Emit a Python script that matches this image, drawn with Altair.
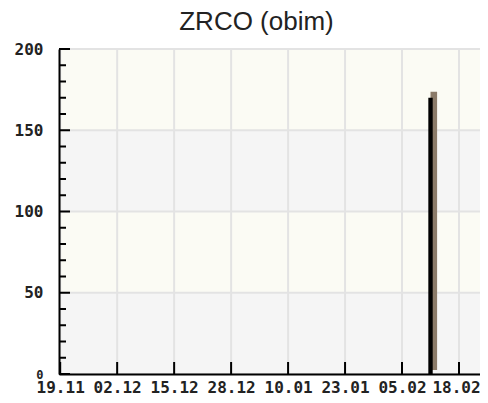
import altair as alt
import pandas as pd

# ---- data ----
tick_dates = ["2019-11-19", "2019-12-02", "2019-12-15", "2019-12-28",
              "2020-01-10", "2020-01-23", "2020-02-05", "2020-02-18"]
bar_start = ["2020-02-11"]
bar_end = ["2020-02-12"]
bar_values = [170]
y_major = [0, 50, 100, 150, 200]
y_minor = [10, 20, 30, 40, 60, 70, 80, 90, 110, 120, 130, 140, 160, 170, 180, 190]
band_lo = [0, 50, 100, 150]
band_hi = [50, 100, 150, 200]
band_kind = ["gray", "cream", "gray", "cream"]

W, H = 421, 325
LABEL_FONT = "DejaVu Sans Mono"


def dt(s):
    t = pd.Timestamp(s)
    return alt.DateTime(year=t.year, month=t.month, date=t.day,
                        hours=t.hour, minutes=t.minute, utc=True)


last_tick_ms = int(pd.Timestamp(tick_dates[-1], tz="UTC").timestamp() * 1000)

# about 4.394 px per day, starting just before 19.11
xscale = alt.Scale(type="utc", domain=[dt("2019-11-18 17:30"), dt("2020-02-22 19:00")])
yscale = alt.Scale(domain=[0, 200], nice=False, zero=False)

xaxis = alt.Axis(values=[dt(d) for d in tick_dates], format="%d.%m", grid=False,
                 ticks=False, domainColor="#000", domainWidth=2,
                 labelFont=LABEL_FONT, labelFontSize=16, labelFontWeight="bold",
                 labelColor="#222", labelPadding=5, labelFlush=False,
                 labelOffset={"condition": {"test": f"+datum.value >= {last_tick_ms}",
                                            "value": -3}, "value": 0},
                 labelOverlap=False, title=None, zindex=1)
yaxis = alt.Axis(values=y_major, grid=False, ticks=False, domainColor="#000",
                 domainWidth=2, labelFont=LABEL_FONT,
                 labelFontSize={"condition": {"test": "datum.value === 0", "value": 12},
                                "value": 16},
                 labelFontWeight="bold", labelColor="#222", labelPadding=16,
                 labelBaseline="middle", title=None, zindex=1)


def X(f):
    return alt.X(f, scale=xscale, axis=xaxis)


def Y(f):
    return alt.Y(f, scale=yscale, axis=yaxis)


bands_df = pd.DataFrame({"lo": band_lo, "hi": band_hi, "kind": band_kind})
ticks_df = pd.DataFrame({"d": tick_dates})
ymaj_df = pd.DataFrame({"v": y_major})
ymin_df = pd.DataFrame({"v": y_minor})
bar_df = pd.DataFrame({"s": bar_start, "e": bar_end, "v": bar_values})

bands = alt.Chart(bands_df).mark_rect().encode(
    x=alt.value(0), x2=alt.value("width"),
    y=Y("lo:Q"), y2="hi:Q",
    color=alt.Color("kind:N", scale=alt.Scale(domain=["gray", "cream"],
                                              range=["#f5f5f5", "#fbfbf4"]),
                    legend=None),
)

vgrid = alt.Chart(ticks_df).mark_rule(color="#e3e3e3", strokeWidth=2).encode(
    x=X("d:T"), y=alt.value(0), y2=alt.value("height"))

hgrid = alt.Chart(ymaj_df).mark_rule(color="#e3e3e3", strokeWidth=2).encode(
    y=Y("v:Q"), x=alt.value(0), x2=alt.value("width"))

# 3-D side face of the bar: same bar, shifted right and up
side = alt.Chart(bar_df).mark_bar(color="#8b7b69", xOffset=2.2, x2Offset=4.4,
                                  yOffset=-6, y2Offset=-4).encode(
    x=X("s:T"), x2="e:T", y=Y("v:Q"), y2=alt.datum(0))

front = alt.Chart(bar_df).mark_bar(color="#000000").encode(
    x=X("s:T"), x2="e:T", y=Y("v:Q"), y2=alt.datum(0))

xticks = alt.Chart(ticks_df).mark_rule(color="#000", strokeWidth=2).encode(
    x=X("d:T"), y=alt.value(H - 12), y2=alt.value(H))

ymaj_ticks = alt.Chart(ymaj_df).mark_rule(color="#000", strokeWidth=2).encode(
    y=Y("v:Q"), x=alt.value(0), x2=alt.value(11))

ymin_ticks = alt.Chart(ymin_df).mark_rule(color="#000", strokeWidth=2).encode(
    y=Y("v:Q"), x=alt.value(0), x2=alt.value(7))

chart = alt.layer(bands, vgrid, hgrid, side, front, xticks, ymaj_ticks, ymin_ticks).properties(
    width=W, height=H,
    title=alt.TitleParams("ZRCO (obim)", font="Liberation Sans", fontSize=26,
                          fontWeight="normal", color="#222", anchor="middle",
                          frame="group", baseline="alphabetic", offset=-15, dx=-13),
    padding={"left": 51, "top": 41, "right": 0, "bottom": 21},
    autosize=alt.AutoSizeParams(type="none"),
).configure_view(stroke=None).configure(background="#ffffff")

chart.save("out.html", embed_options={"renderer": "svg", "actions": False})
